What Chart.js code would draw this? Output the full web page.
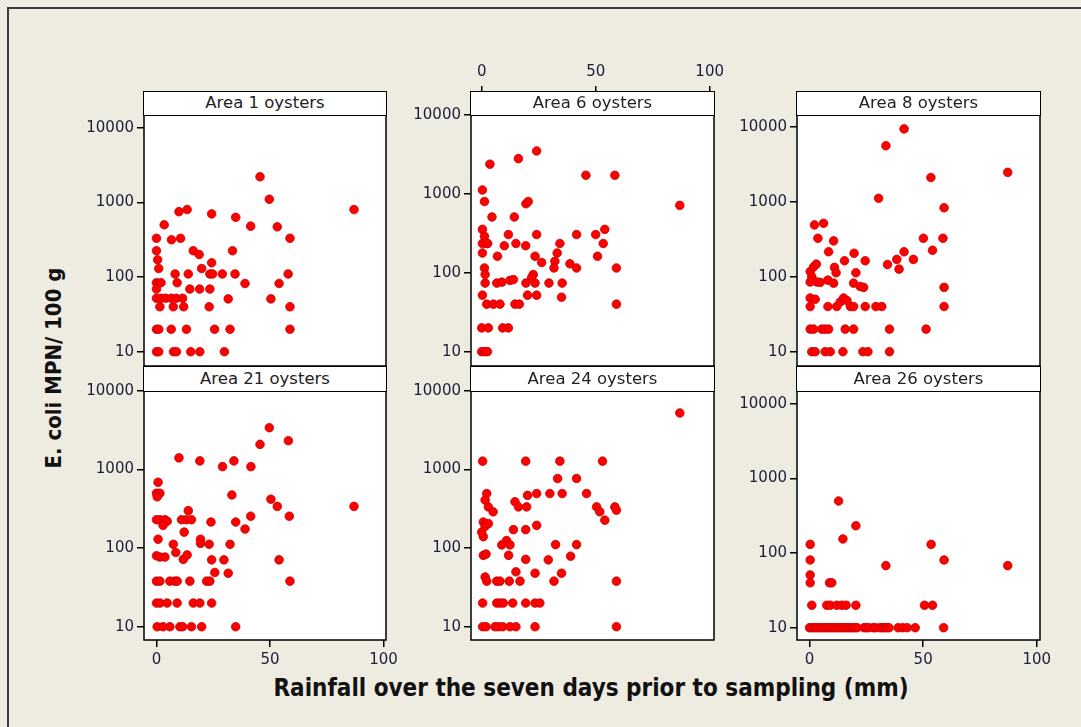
<!DOCTYPE html>
<html>
<head>
<meta charset="utf-8">
<title>E. coli vs rainfall</title>
<script src="https://cdn.jsdelivr.net/npm/chart.js@4/dist/chart.umd.min.js"></script>
<style>
  html, body { margin: 0; padding: 0; }
  body {
    width: 1081px; height: 727px; position: relative; overflow: hidden;
    background: #eeebe1; font-family: "DejaVu Sans", sans-serif;
  }
  .frame {
    position: absolute; left: 7px; top: 7px; width: 1200px; height: 900px;
    border-left: 2px solid #3a3a3a; border-top: 2px solid #3a3a3a;
  }
  .strip {
    position: absolute; box-sizing: border-box; z-index: 2;
    background: #fff; border: 1.5px solid #000;
    text-align: center; font-size: 16.5px; color: #222; white-space: nowrap;
  }
  .xtitle {
    position: absolute; left: 241px; top: 674px; width: 700px; text-align: center;
    font-family: "DejaVu Sans Condensed", "DejaVu Sans", sans-serif;
    font-weight: bold; font-size: 24px; color: #111; white-space: nowrap;
  }
  .ytitle {
    position: absolute; left: -47px; top: 356px; width: 200px; text-align: center;
    font-family: "DejaVu Sans Condensed", "DejaVu Sans", sans-serif;
    font-weight: bold; font-size: 22px; color: #111; white-space: nowrap;
    transform: rotate(-90deg);
  }
</style>
</head>
<body>
<div class="frame"></div>
<div class="ytitle">E. coli MPN/ 100 g</div>
<div class="xtitle">Rainfall over the seven days prior to sampling (mm)</div>
<script>
// ---------------- Data ----------------
const xTicks = [0, 50, 100];
const yTicks = [10, 100, 1000, 10000];

const area1Rain = [
  45.6, 49.7, 87, 3.4, 9.9, 13.5, 24.3, 34.9, 41.5, 53.2,
  58.8, 0, 6.6, 10.6, 0, 16.2, 18.8, 33.5, 0.5, 1,
  24.3, 19.9, 8.2, 14, 23.5, 24.7, 29, 34.6, 58, 0,
  2, 9.1, 39, 54, 0, 14.7, 19, 23.5, 0, 2,
  4, 6.5, 8.7, 11.5, 31.6, 50.4, 1.5, 7.4, 12, 23.2,
  58.8, 0, 1, 6.5, 13.2, 25.6, 32.4, 58.8, 0, 1,
  7.5, 8.8, 15.1, 19.1, 29.9
];
const area1Ecoli = [
  2200, 1100, 800, 500, 750, 800, 700, 630, 480, 470,
  330, 330, 315, 330, 225, 225, 200, 225, 170, 130,
  155, 130, 110, 110, 110, 110, 110, 110, 110, 84,
  84, 84, 82, 82, 69, 69, 69, 69, 52, 52,
  52, 52, 52, 52, 51, 51, 40, 40, 40, 40,
  40, 20, 20, 20, 20, 20, 20, 20, 10, 10,
  10, 10, 10, 10, 10
];

const area6Rain = [
  24.1, 16.1, 3.6, 45.7, 58.4, 0.3, 1.2, 19.4, 20.4, 86.9,
  4.5, 14.3, 0.3, 54, 50, 11.7, 24.1, 41.6, 1.2, 2.2,
  0.3, 2.6, 15, 9.9, 19.3, 34.3, 53.3, 0.3, 6.9, 23.4,
  33.1, 50.8, 26.3, 32.1, 31.7, 38.7, 41.6, 59.1, 1.2, 1.5,
  22.6, 1.5, 6.6, 8.8, 12.4, 13.9, 19.4, 23.4, 21.9, 29.5,
  35.3, 0.3, 20.1, 24.1, 35, 2.2, 5.1, 8, 14.6, 16.5,
  59.1, 0, 2.9, 9.2, 11.7, 0, 1.5, 2.5
];
const area6Ecoli = [
  3500, 2800, 2380, 1720, 1720, 1120, 800, 750, 800, 715,
  510, 510, 355, 355, 305, 305, 305, 305, 290, 235,
  235, 235, 235, 220, 220, 235, 235, 178, 162, 162,
  178, 162, 135, 140, 115, 130, 115, 115, 115, 95,
  95, 74, 74, 76, 80, 82, 74, 74, 87, 74,
  74, 52, 52, 52, 49, 40, 40, 40, 40, 40,
  40, 20, 20, 20, 20, 10, 10, 10
];

const area8Rain = [
  41.6, 33.6, 87.2, 53.4, 30.4, 59.2, 2.2, 6.2, 3.7, 10.6,
  50.1, 58.7, 8.4, 19.6, 41.6, 54.1, 15.4, 24.5, 45.7, 38.4,
  34.3, 39.4, 11, 11.7, 20.4, 0.3, 1.8, 3, 1, 0.3,
  3.2, 4.7, 8.1, 10.6, 19.4, 22.3, 23.8, 59.2, 0.3, 2.5,
  0.3, 8.1, 12, 13.5, 15, 16.5, 18, 19.4, 24.5, 29.2,
  31.8, 59.2, 0.3, 1.8, 5.4, 6.9, 8.4, 15.7, 19.4, 35.2,
  51.3, 1, 2.5, 6.9, 9.1, 14.7, 23.5, 25.7, 35.2
];
const area8Ecoli = [
  9350, 5580, 2460, 2100, 1110, 830, 490, 515, 325, 300,
  325, 325, 215, 205, 215, 225, 163, 163, 170, 170,
  145, 126, 133, 113, 113, 117, 135, 147, 100, 85,
  85, 84, 90, 82, 82, 74, 72, 72, 52, 50,
  40, 40, 40, 46, 52, 48, 40, 40, 40, 40,
  40, 40, 20, 20, 20, 20, 20, 20, 20, 20,
  20, 10, 10, 10, 10, 10, 10, 10, 10
];

const area21Rain = [
  49.7, 58.1, 45.6, 9.9, 19.1, 34.1, 29.1, 41.6, 0.7, 0,
  1.5, 0.3, 33.2, 50.4, 53.2, 87, 58.5, 41.5, 14, 0,
  1.5, 3.7, 4.7, 2.9, 11, 13.2, 15.4, 24, 34.9, 39,
  12.2, 0.7, 19.4, 19.4, 23.2, 32.4, 7.4, 8.5, 0, 1.5,
  3.7, 11.8, 13.5, 24.3, 29.7, 54, 25.7, 31.6, 0, 1.5,
  5.9, 8.1, 9.1, 14.7, 22.1, 23.5, 58.8, 0, 1.5, 4.7,
  9.1, 16.2, 19.1, 24.3, 0.3, 2.9, 5.9, 10.3, 11.5, 15.4,
  19.9, 34.9
];
const area21Ecoli = [
  3410, 2330, 2090, 1410, 1290, 1290, 1090, 1090, 690, 500,
  500, 450, 475, 420, 340, 340, 255, 255, 300, 230,
  230, 230, 220, 195, 230, 230, 230, 215, 215, 175,
  160, 130, 130, 115, 112, 112, 112, 88, 80, 77,
  77, 72, 82, 71, 71, 71, 49, 48, 38, 38,
  38, 38, 38, 38, 38, 38, 38, 20, 20, 20,
  20, 20, 20, 20, 10, 10, 10, 10, 10, 10,
  10, 10
];

const area24Rain = [
  86.9, 0.4, 19.3, 34.3, 53, 33.3, 41.6, 2.2, 24.1, 20.1,
  29.9, 35.3, 46, 1.5, 2.9, 5, 14.6, 16.1, 19.7, 50.4,
  51.8, 58.4, 59.1, 54, 0.7, 1.5, 2.9, 0.7, 0, 13.9,
  19.3, 24.1, 8.8, 10.9, 12.4, 32.4, 41.6, 0.7, 1.9, 11.8,
  19.3, 29.2, 39, 15, 23.4, 35, 1.5, 2.2, 6.6, 8,
  12.1, 16.8, 31.7, 59.1, 0.4, 6.6, 8, 9.5, 13.6, 19.3,
  23.4, 25.5, 0.4, 1.9, 5.8, 7.3, 9.2, 12.4, 15, 23.4,
  59.1
];
const area24Ecoli = [
  5250, 1280, 1280, 1280, 1280, 770, 770, 495, 495, 470,
  495, 495, 495, 410, 335, 290, 390, 335, 335, 335,
  290, 335, 305, 227, 215, 190, 205, 140, 160, 172,
  172, 195, 110, 125, 110, 111, 111, 81, 84, 81,
  72, 71, 79, 50, 48, 48, 43, 38, 38, 38,
  38, 38, 38, 38, 20, 20, 20, 20, 20, 20,
  20, 20, 10, 10, 10, 10, 10, 10, 10, 10,
  10
];

const area26Rain = [
  12.8, 20.4, 14.7, 0.3, 53.5, 0.3, 59.2, 33.6, 87.2, 0.3,
  0.3, 8.8, 9.8, 1, 7.6, 9.1, 12, 14.2, 16.1, 20.4,
  50.6, 54.1, 0, 1, 2, 3, 4, 5, 6, 7,
  8, 9, 10, 11, 12, 13, 14, 15, 16, 17,
  18, 19, 20, 21, 24, 25, 26, 28, 29, 31,
  32, 33, 34, 35, 39, 41, 43, 46.5, 59
];
const area26Ecoli = [
  500, 233, 155, 131, 131, 81, 81, 68, 68, 51,
  40, 40, 40, 20, 20, 20, 20, 20, 20, 20,
  20, 20, 10, 10, 10, 10, 10, 10, 10, 10,
  10, 10, 10, 10, 10, 10, 10, 10, 10, 10,
  10, 10, 10, 10, 10, 10, 10, 10, 10, 10,
  10, 10, 10, 10, 10, 10, 10, 10, 10
];

// ---------------- Panel layout ----------------
// box = plot area [left, top, right, bottom] in page px; strip = top of header strip
// xr = rainfall range, yr = log10 range of the y axis
const panels = [
  { label: "Area 1 oysters",  rain: area1Rain,  ecoli: area1Ecoli,  box: [144, 115, 386, 366], strip: 91,  xr: [-5.5, 101.1], yr: [0.809, 4.169], xAxis: null },
  { label: "Area 6 oysters",  rain: area6Rain,  ecoli: area6Ecoli,  box: [471, 115, 714, 366], strip: 91,  xr: [-4.7, 101.9], yr: [0.818, 4.0],   xAxis: "top" },
  { label: "Area 8 oysters",  rain: area8Rain,  ecoli: area8Ecoli,  box: [797, 115, 1040, 366], strip: 91, xr: [-5.5, 101.4], yr: [0.809, 4.156], xAxis: null },
  { label: "Area 21 oysters", rain: area21Rain, ecoli: area21Ecoli, box: [144, 391, 386, 640], strip: 366, xr: [-5.5, 101.1], yr: [0.831, 4.0],   xAxis: "bottom" },
  { label: "Area 24 oysters", rain: area24Rain, ecoli: area24Ecoli, box: [471, 391, 714, 640], strip: 366, xr: [-4.7, 101.9], yr: [0.831, 4.0],   xAxis: null },
  { label: "Area 26 oysters", rain: area26Rain, ecoli: area26Ecoli, box: [797, 391, 1040, 640], strip: 366, xr: [-5.5, 101.4], yr: [0.835, 4.174], xAxis: "bottom" }
];

const tickFont = { family: "DejaVu Sans", size: 15 };
const tickColor = "#1e1e3a";

// white plot area + black frame
const panelFrame = {
  id: "panelFrame",
  beforeDraw(chart) {
    const a = chart.chartArea, ctx = chart.ctx;
    ctx.save();
    ctx.fillStyle = "#fff";
    ctx.fillRect(a.left, a.top, a.right - a.left, a.bottom - a.top);
    ctx.restore();
  },
  afterDraw(chart) {
    const a = chart.chartArea, ctx = chart.ctx;
    ctx.save();
    ctx.strokeStyle = "#000";
    ctx.lineWidth = 1.5;
    ctx.strokeRect(a.left, a.top, a.right - a.left, a.bottom - a.top);
    ctx.restore();
  }
};

panels.forEach((p) => {
  const [L, T, R, B] = p.box;
  const padL = 6, yW = 70, padR = 20;
  const topH = p.xAxis === "top" ? 55 : 0;
  const botH = p.xAxis === "bottom" ? 35 : 0;
  const padT = topH ? 6 : 20, padB = botH ? 6 : 20;
  const cx = L - padL - yW, cy = T - padT - topH;
  const cw = R + padR - cx, ch = B + botH + padB - cy;

  const canvas = document.createElement("canvas");
  canvas.width = cw;
  canvas.height = ch;
  canvas.style.cssText = `position:absolute;left:${cx}px;top:${cy}px;width:${cw}px;height:${ch}px;`;
  document.body.appendChild(canvas);

  const strip = document.createElement("div");
  strip.className = "strip";
  const sh = T - p.strip + 1;
  strip.style.cssText = `left:${L - 1}px;top:${p.strip}px;width:${R - L + 2}px;height:${sh}px;line-height:${sh - 3}px;`;
  strip.textContent = p.label;
  document.body.appendChild(strip);

  const points = p.rain.map((r, i) => ({ x: r, y: p.ecoli[i] }));

  new Chart(canvas, {
    type: "scatter",
    data: {
      datasets: [{
        data: points,
        backgroundColor: "#ff0000",
        borderColor: "#c40000",
        borderWidth: 0.8,
        pointRadius: 4.3,
        pointHoverRadius: 4.3
      }]
    },
    plugins: [panelFrame],
    options: {
      responsive: false,
      animation: false,
      events: [],
      layout: { padding: { left: padL, right: padR, top: padT, bottom: padB } },
      plugins: { legend: { display: false }, tooltip: { enabled: false } },
      scales: {
        x: {
          type: "linear",
          position: p.xAxis || "bottom",
          display: !!p.xAxis,
          bounds: "data",
          min: p.xr[0],
          max: p.xr[1],
          afterBuildTicks: (s) => { s.ticks = xTicks.map((v) => ({ value: v })); },
          afterFit: (s) => { s.height = p.xAxis === "top" ? topH : botH; },
          grid: {
            drawOnChartArea: false, drawTicks: true,
            tickLength: p.xAxis === "top" ? 29 : 7,
            color: "#000", lineWidth: 1.5
          },
          border: { display: false },
          ticks: {
            font: tickFont, color: tickColor, padding: p.xAxis === "top" ? 5 : 4,
            maxRotation: 0, autoSkip: false,
            callback: (v) => String(v)
          }
        },
        y: {
          type: "logarithmic",
          bounds: "data",
          min: Math.pow(10, p.yr[0]),
          max: Math.pow(10, p.yr[1]),
          afterBuildTicks: (s) => { s.ticks = yTicks.map((v) => ({ value: v })); },
          afterFit: (s) => { s.width = yW; },
          grid: {
            drawOnChartArea: false, drawTicks: true, tickLength: 7,
            color: "#000", lineWidth: 1.5
          },
          border: { display: false },
          ticks: {
            font: tickFont, color: tickColor, padding: 3, autoSkip: false,
            callback: (v) => String(v)
          }
        }
      }
    }
  });
});
</script>
</body>
</html>
